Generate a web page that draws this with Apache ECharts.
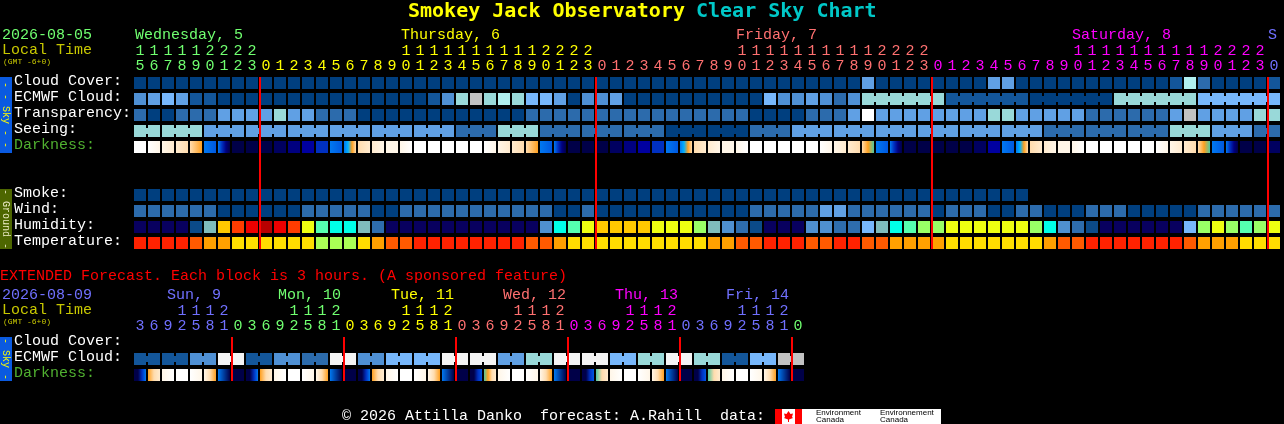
<!DOCTYPE html>
<html><head><meta charset="utf-8">
<style>html,body{margin:0;padding:0;background:#000}#c{width:1284px;height:424px}</style>
<script src="https://cdn.jsdelivr.net/npm/echarts@6/dist/echarts.min.js"></script>
</head><body><div id="c"></div>
<script>
const hourTicks=["15","16","17","18","19","20","21","22","23","0","1","2","3","4","5","6","7","8","9","10","11","12","13","14","15","16","17","18","19","20","21","22","23","0","1","2","3","4","5","6","7","8","9","10","11","12","13","14","15","16","17","18","19","20","21","22","23","0","1","2","3","4","5","6","7","8","9","10","11","12","13","14","15","16","17","18","19","20","21","22","23","0"];
const extTicks=["3","6","9","12","15","18","21","0","3","6","9","12","15","18","21","0","3","6","9","12","15","18","21","0","3","6","9","12","15","18","21","0","3","6","9","12","15","18","21","0","3","6","9","12","15","18","21","0"];
const hourRows=["Cloud Cover:","ECMWF Cloud:","Transparency:","Seeing:","Darkness:","","","Smoke:","Wind:","Humidity:","Temperature:"];
const extRows=["Cloud Cover:","ECMWF Cloud:","Darkness:"];
const hourDividers=[9,33,57,81];
const extDividers=[7,15,23,31,39,47];

const cloud=[0,0,0,0,0,0,0,0,0,0, 0,0,0,0,0,0,0,0,0,0, 0,0,0,0,0,0,0,0,0,0, 0,0,0,0,0,0,0,0,0,0, 0,0,0,0,0,0,0,0,0,0, 0,0,4,0,0,0,0,0,0,0, 0,4,4,0,0,0,0,0,0,0, 0,0,0,0,1,7,2,0,0,0, 0,1];
const ecmwf=[3,4,5,4,1,1,0,0,0,0, 0,0,0,0,0,0,0,0,0,0, 0,1,3,6,8,6,7,6,5,5, 4,0,3,3,4,0,0,0,0,0, 0,0,0,0,0,5,3,3,4,3, 2,3,6,6,6,6,6,6,1,1, 1,1,1,1,0,0,0,0,0,0, 6,6,6,6,6,6,5,5,5,5, 5,5];
const ecmwfBlockStart=52;
const ecmwfBlockLength=6;
const transparency=[2,0,0,2,2,2,4,4,4,4, 6,4,4,2,2,2,0,0,0,0, 0,0,0,0,0,0,0,0,2,2, 2,2,2,2,2,2,2,2,2,2, 2,2,2,2,0,0,0,0,2,2, 2,4,10,4,4,4,4,4,4,4, 4,6,6,4,4,4,4,4,2,2, 2,2,2,2,4,8,4,4,4,4, 6,6];
const seeingBlockValues=[6,6,4,4,4,4,4,4,2,6,2,2,2,0,0,2,4,4,4,4,4,4,2,2,2,6,4,2];
const seeingBlockLengths=[2,3,3,3,3,3,3,3,3,3,3,3,3,3,3,3,3,3,3,3,3,3,3,3,3,3,3,2];
const smoke=[0,0,0,0,0,0,0,0,0,0, 0,0,0,0,0,0,0,0,0,0, 0,0,0,0,0,0,0,0,0,0, 0,0,0,0,0,0,0,0,0,0, 0,0,0,0,0,0,0,0,0,0, 0,0,0,0,0,0,0,0,0,0, 0,0,0,0];
const wind=[2,2,2,2,2,2,0,0,0,0, 0,0,2,2,2,2,2,0,0,2, 2,2,2,2,2,2,2,2,2,2, 0,0,2,0,0,0,0,0,0,0, 0,0,0,0,2,2,2,2,2,4, 4,2,2,2,2,2,2,0,2,2, 2,0,0,2,2,0,0,0,2,2, 2,0,0,0,0,0,2,2,2,2, 2,2];
const humidity=[0,0,0,0,1,5,10,11,12,13, 12,11,9,7,6,6,5,2,0,0, 0,0,0,0,0,0,0,0,0,3, 6,7,9,10,10,10,10,9,9,9, 8,5,3,2,1,0,0,0,3,3, 2,2,4,5,6,7,8,8,9,9, 9,9,9,9,8,6,3,2,1,0, 0,0,0,0,0,4,8,9,8,7, 8,9];
const temperature=[0,0,0,0,1,2,2,3,3,3, 3,3,3,4,4,4,3,2,1,1, 0,0,0,0,0,0,0,0,1,1, 2,3,3,3,3,3,3,3,3,3, 3,2,2,1,1,0,0,0,1,1, 0,0,1,1,2,2,2,2,3,3, 3,3,3,3,3,2,1,1,0,0, 0,0,0,0,0,1,2,2,2,3, 3,3];
const darkness=[[0],[0,1],[1,2],[2,3],[3,5],[7,8],[7,9,11,13],[13],[13],[13],[12],[11],[10],[9],[7,8],[7,6,5,3],[3,2],[2,1],[1,1],[1,0],[0],[0],[0],[0],[0],[0,1],[1,2],[2,3],[3,5],[7,8],[7,9,11,13],[13],[13],[13],[12],[11],[10],[9],[7,8],[7,6,5,3],[3,2],[2,1],[1,1],[1,0],[0],[0],[0],[0],[0],[0,1],[1,2],[2,3],[3,5,14],[7,8],[7,9,11,13],[13],[13],[13],[13],[13],[12],[10],[7,8],[7,6,5,3],[3,2],[2,1],[1,1],[1,0],[0],[0],[0],[0],[0],[0,1],[1,2],[2,3],[3,5,14],[7,8],[7,9,11,13],[13],[13],[12]];
const extEcmwf=[1,1,3,9,1,3,2,9,3,5,5,9,9,4,6,9,9,5,6,9,6,1,5,8];
const extDarkness=[[13,13,9,7],[5,3,2],[1,0],[0],[0,1],[1,3,5],[7,13],[13],[13,13,9,7],[5,3,2],[1,0],[0],[0,1],[1,3,5],[7,13],[13],[13,13,9,7],[5,3,2],[1,0],[0],[0,1],[1,3,5],[7,13],[13],[13,13,9,8],[14,5,3,2],[1,0],[0],[0,1],[1,3,5],[7,13],[13],[13,13,9,8],[14,3,2],[1,0],[0],[0,1],[1,3,5],[7,13],[13],[13,13,9,8],[14,3,2],[1,0],[0],[0,1],[1,3,5],[7,13],[13]];

const skyColors=["#003f7f","#13569a","#2c6bac","#4f90d4","#60a0e4","#77b7fb","#99d9d9","#b0f0f0","#c2c2c2","#f4f4f4","#ffffff"];
const humidityColors=["#08005f","#0b4a88","#2e6dad","#4f90d0","#77b7fb","#7fbcbc","#00ffe8","#55ffb0","#99ff66","#eeff11","#ffc800","#ff3c00","#ee0000","#b80000"];
const temperatureColors=["#ff2200","#ff5a00","#ffa000","#ffdd00","#aaff55"];
const darknessColors=["#ffffff","#fff6e8","#ffebcf","#ffdcae","#ffd090","#ffa020","#00b0ff","#0078f0","#0058e0","#0030c0","#0000a0","#000080","#000060","#000048","#50c8a0"];
const dayBlue="#7070ff",dayGreen="#70ff70",dayYellow="#ffff00",daySalmon="#ff7070",dayMagenta="#ff00ff";
const hourColorRuns=[[9,dayGreen],[33,dayYellow],[57,daySalmon],[81,dayMagenta],[82,dayBlue]];
const extColorRuns=[[7,dayBlue],[15,dayGreen],[23,dayYellow],[31,daySalmon],[39,dayMagenta],[47,dayBlue],[48,dayGreen]];
const MONO='"Liberation Mono"';
const MONO_BOLD='"DejaVu Sans Mono"';

function runColor(runs,i){for(const r of runs){if(i<r[0])return r[1];}return '#fff';}
function cellItem(params,api,color){
  const c=api.coord([api.value(0),api.value(1)]),s=api.size([1,1]);
  const x=c[0]-s[0]/2+1,y=c[1]-s[1]/2+2,w=s[0]-2,h=s[1]-4;
  const kids=[{type:'rect',shape:{x,y,width:w,height:h},style:{fill:color}}];
  if(api.value(3))kids.push({type:'rect',shape:{x:x+w,y:y+3,width:2,height:h-6},style:{fill:color}});
  return {type:'group',children:kids};
}
function levelSeries(gridIdx,row,values,palette,joined){
  return {type:'custom',xAxisIndex:gridIdx,yAxisIndex:gridIdx,z:2,silent:true,
    data:values.map((v,i)=>[i,row,v,joined&&joined[i]?1:0]),
    encode:{x:0,y:1},
    renderItem:(p,api)=>cellItem(p,api,palette[api.value(2)])};
}
function gradientSeries(gridIdx,row,values){
  return {type:'custom',xAxisIndex:gridIdx,yAxisIndex:gridIdx,z:2,silent:true,
    data:values.map((v,i)=>[i,row]),encode:{x:0,y:1},
    renderItem:(p,api)=>{
      const st=values[p.dataIndex];
      const fill=st.length<2?darknessColors[st[0]]:new echarts.graphic.LinearGradient(0,0,1,0,
        st.map((l,j)=>({offset:j/(st.length-1),color:darknessColors[l]})));
      return cellItem(p,api,fill);
    }};
}
function dividerSeries(gridIdx,dividers,lastRow){
  return {type:'custom',xAxisIndex:gridIdx,yAxisIndex:gridIdx,z:5,silent:true,
    data:dividers.map(i=>[i,0]),encode:{x:0,y:1},
    renderItem:(p,api)=>{
      const a=api.coord([api.value(0),0]),b=api.coord([api.value(0),lastRow]),s=api.size([1,1]);
      return {type:'rect',shape:{x:a[0]-s[0]/2,y:a[1]-s[1]/2+2,width:2,height:b[1]-a[1]+s[1]-4},style:{fill:'#ff0000'}};
    }};
}
function xAxisFor(gridIdx,ticks,runs){
  return {gridIndex:gridIdx,type:'category',data:ticks,position:'top',boundaryGap:true,
    axisLine:{show:false},axisTick:{show:false},splitLine:{show:false},
    axisLabel:{show:true,interval:0,hideOverlap:false,margin:1,fontFamily:MONO,fontSize:15,lineHeight:15,
      formatter:v=>(v.length>1?v[0]:' ')+'\n'+v[v.length-1],
      color:(v,i)=>runColor(runs,i)}};
}
function yAxisFor(gridIdx,rows){
  return {gridIndex:gridIdx,type:'category',data:rows,inverse:true,
    axisLine:{show:false},axisTick:{show:false},splitLine:{show:false},
    axisLabel:{show:true,interval:0,align:'left',verticalAlign:'bottom',lineHeight:4,margin:119,fontFamily:MONO,fontSize:15,
      color:v=>v==='Darkness:'?'#50b030':'#ffffff'}};
}
function txt(text,x,y,fill,size,opt){
  opt=opt||{};
  return {type:'text',x,y,rotation:opt.rotation||0,z:10,silent:true,
    style:{text,fill,font:(opt.bold?'bold ':'')+size+'px '+(opt.family||MONO),textAlign:opt.align||'left',textVerticalAlign:'middle'}};
}
function box(x,y,w,h,fill){return {type:'rect',x:0,y:0,z:9,silent:true,shape:{x,y,width:w,height:h},style:{fill}};}

const seeing=[],seeingJoined=[];
seeingBlockValues.forEach((v,b)=>{for(let k=0;k<seeingBlockLengths[b];k++){seeing.push(v);seeingJoined.push(k<seeingBlockLengths[b]-1?1:0);}});
const ecmwfJoined=ecmwf.map((v,i)=>i>=ecmwfBlockStart&&(i-ecmwfBlockStart)%ecmwfBlockLength!==ecmwfBlockLength-1?1:0);
const extCells=[],extJoined=[];
extEcmwf.forEach(v=>{extCells.push(v,v);extJoined.push(1,0);});
const rot=-Math.PI/2;

const option={
  backgroundColor:'#000',animation:false,
  grid:[
    {left:133,top:75,width:hourTicks.length*14,height:hourRows.length*16,containLabel:false},
    {left:133,top:335,width:extTicks.length*14,height:extRows.length*16,containLabel:false}
  ],
  xAxis:[xAxisFor(0,hourTicks,hourColorRuns),xAxisFor(1,extTicks,extColorRuns)],
  yAxis:[yAxisFor(0,hourRows),yAxisFor(1,extRows)],
  series:[
    levelSeries(0,0,cloud,skyColors),
    levelSeries(0,1,ecmwf,skyColors,ecmwfJoined),
    levelSeries(0,2,transparency,skyColors),
    levelSeries(0,3,seeing,skyColors,seeingJoined),
    gradientSeries(0,4,darkness),
    levelSeries(0,7,smoke,skyColors),
    levelSeries(0,8,wind,skyColors),
    levelSeries(0,9,humidity,humidityColors),
    levelSeries(0,10,temperature,temperatureColors),
    dividerSeries(0,hourDividers,10),
    levelSeries(1,1,extCells,skyColors,extJoined),
    gradientSeries(1,2,extDarkness),
    dividerSeries(1,extDividers,2)
  ],
  graphic:{elements:[
    txt('Smokey Jack Observatory',408,12,'#ffff00',20,{bold:true,family:MONO_BOLD}),
    txt('Clear Sky Chart',696,12,'#00c8c8',20,{bold:true,family:MONO_BOLD}),
    txt('2026-08-05',2,35,dayGreen,15),
    txt('Local Time',2,50,'#c8c800',15),
    txt('(GMT -6+0)',3,62,'#c8c800',8),
    txt('Wednesday, 5',135,35,dayGreen,15),
    txt('Thursday, 6',401,35,dayYellow,15),
    txt('Friday, 7',736,35,daySalmon,15),
    txt('Saturday, 8',1072,35,dayMagenta,15),
    txt('S',1268,35,dayBlue,15),
    box(0,77,12,76,'#0a5ae0'),
    txt('- - Sky - -',6,115,'#ffff00',10,{rotation:rot,align:'center'}),
    box(0,189,12,60,'#4d6600'),
    txt('- Ground -',6,219,'#e8e8c0',10,{rotation:rot,align:'center'}),
    txt('EXTENDED Forecast. Each block is 3 hours. (A sponsored feature)',0,276,'#ff0000',15),
    txt('2026-08-09',2,295,dayBlue,15),
    txt('Local Time',2,310,'#c8c800',15),
    txt('(GMT -6+0)',3,322,'#c8c800',8),
    txt('Sun, 9',167,295,dayBlue,15),
    txt('Mon, 10',278,295,dayGreen,15),
    txt('Tue, 11',391,295,dayYellow,15),
    txt('Wed, 12',503,295,daySalmon,15),
    txt('Thu, 13',615,295,dayMagenta,15),
    txt('Fri, 14',726,295,dayBlue,15),
    box(0,337,12,44,'#0a5ae0'),
    txt('- Sky -',6,359,'#ffff00',10,{rotation:rot,align:'center'}),
    txt('\u00a9 2026 Attilla Danko  forecast: A.Rahill  data:',342,416,'#ffffff',15),
    box(775,409,166,15,'#ffffff'),
    box(775,409,7,15,'#ff0000'),
    box(795,409,7,15,'#ff0000'),
    {type:'polygon',z:10,silent:true,shape:{points:[[788.5,411],[790.5,414],[793,413.5],[792,417],[793,418],[789,419.5],[789,422],[788,422],[788,419.5],[784,418],[785,417],[784,413.5],[786.5,414]]},style:{fill:'#ff0000'}},
    txt('Environment',816,413,'#000000',8,{family:'"Liberation Sans"'}),
    txt('Canada',816,420,'#000000',8,{family:'"Liberation Sans"'}),
    txt('Environnement',880,413,'#000000',8,{family:'"Liberation Sans"'}),
    txt('Canada',880,420,'#000000',8,{family:'"Liberation Sans"'})
  ]}
};
echarts.init(document.getElementById('c')).setOption(option);
</script></body></html>
